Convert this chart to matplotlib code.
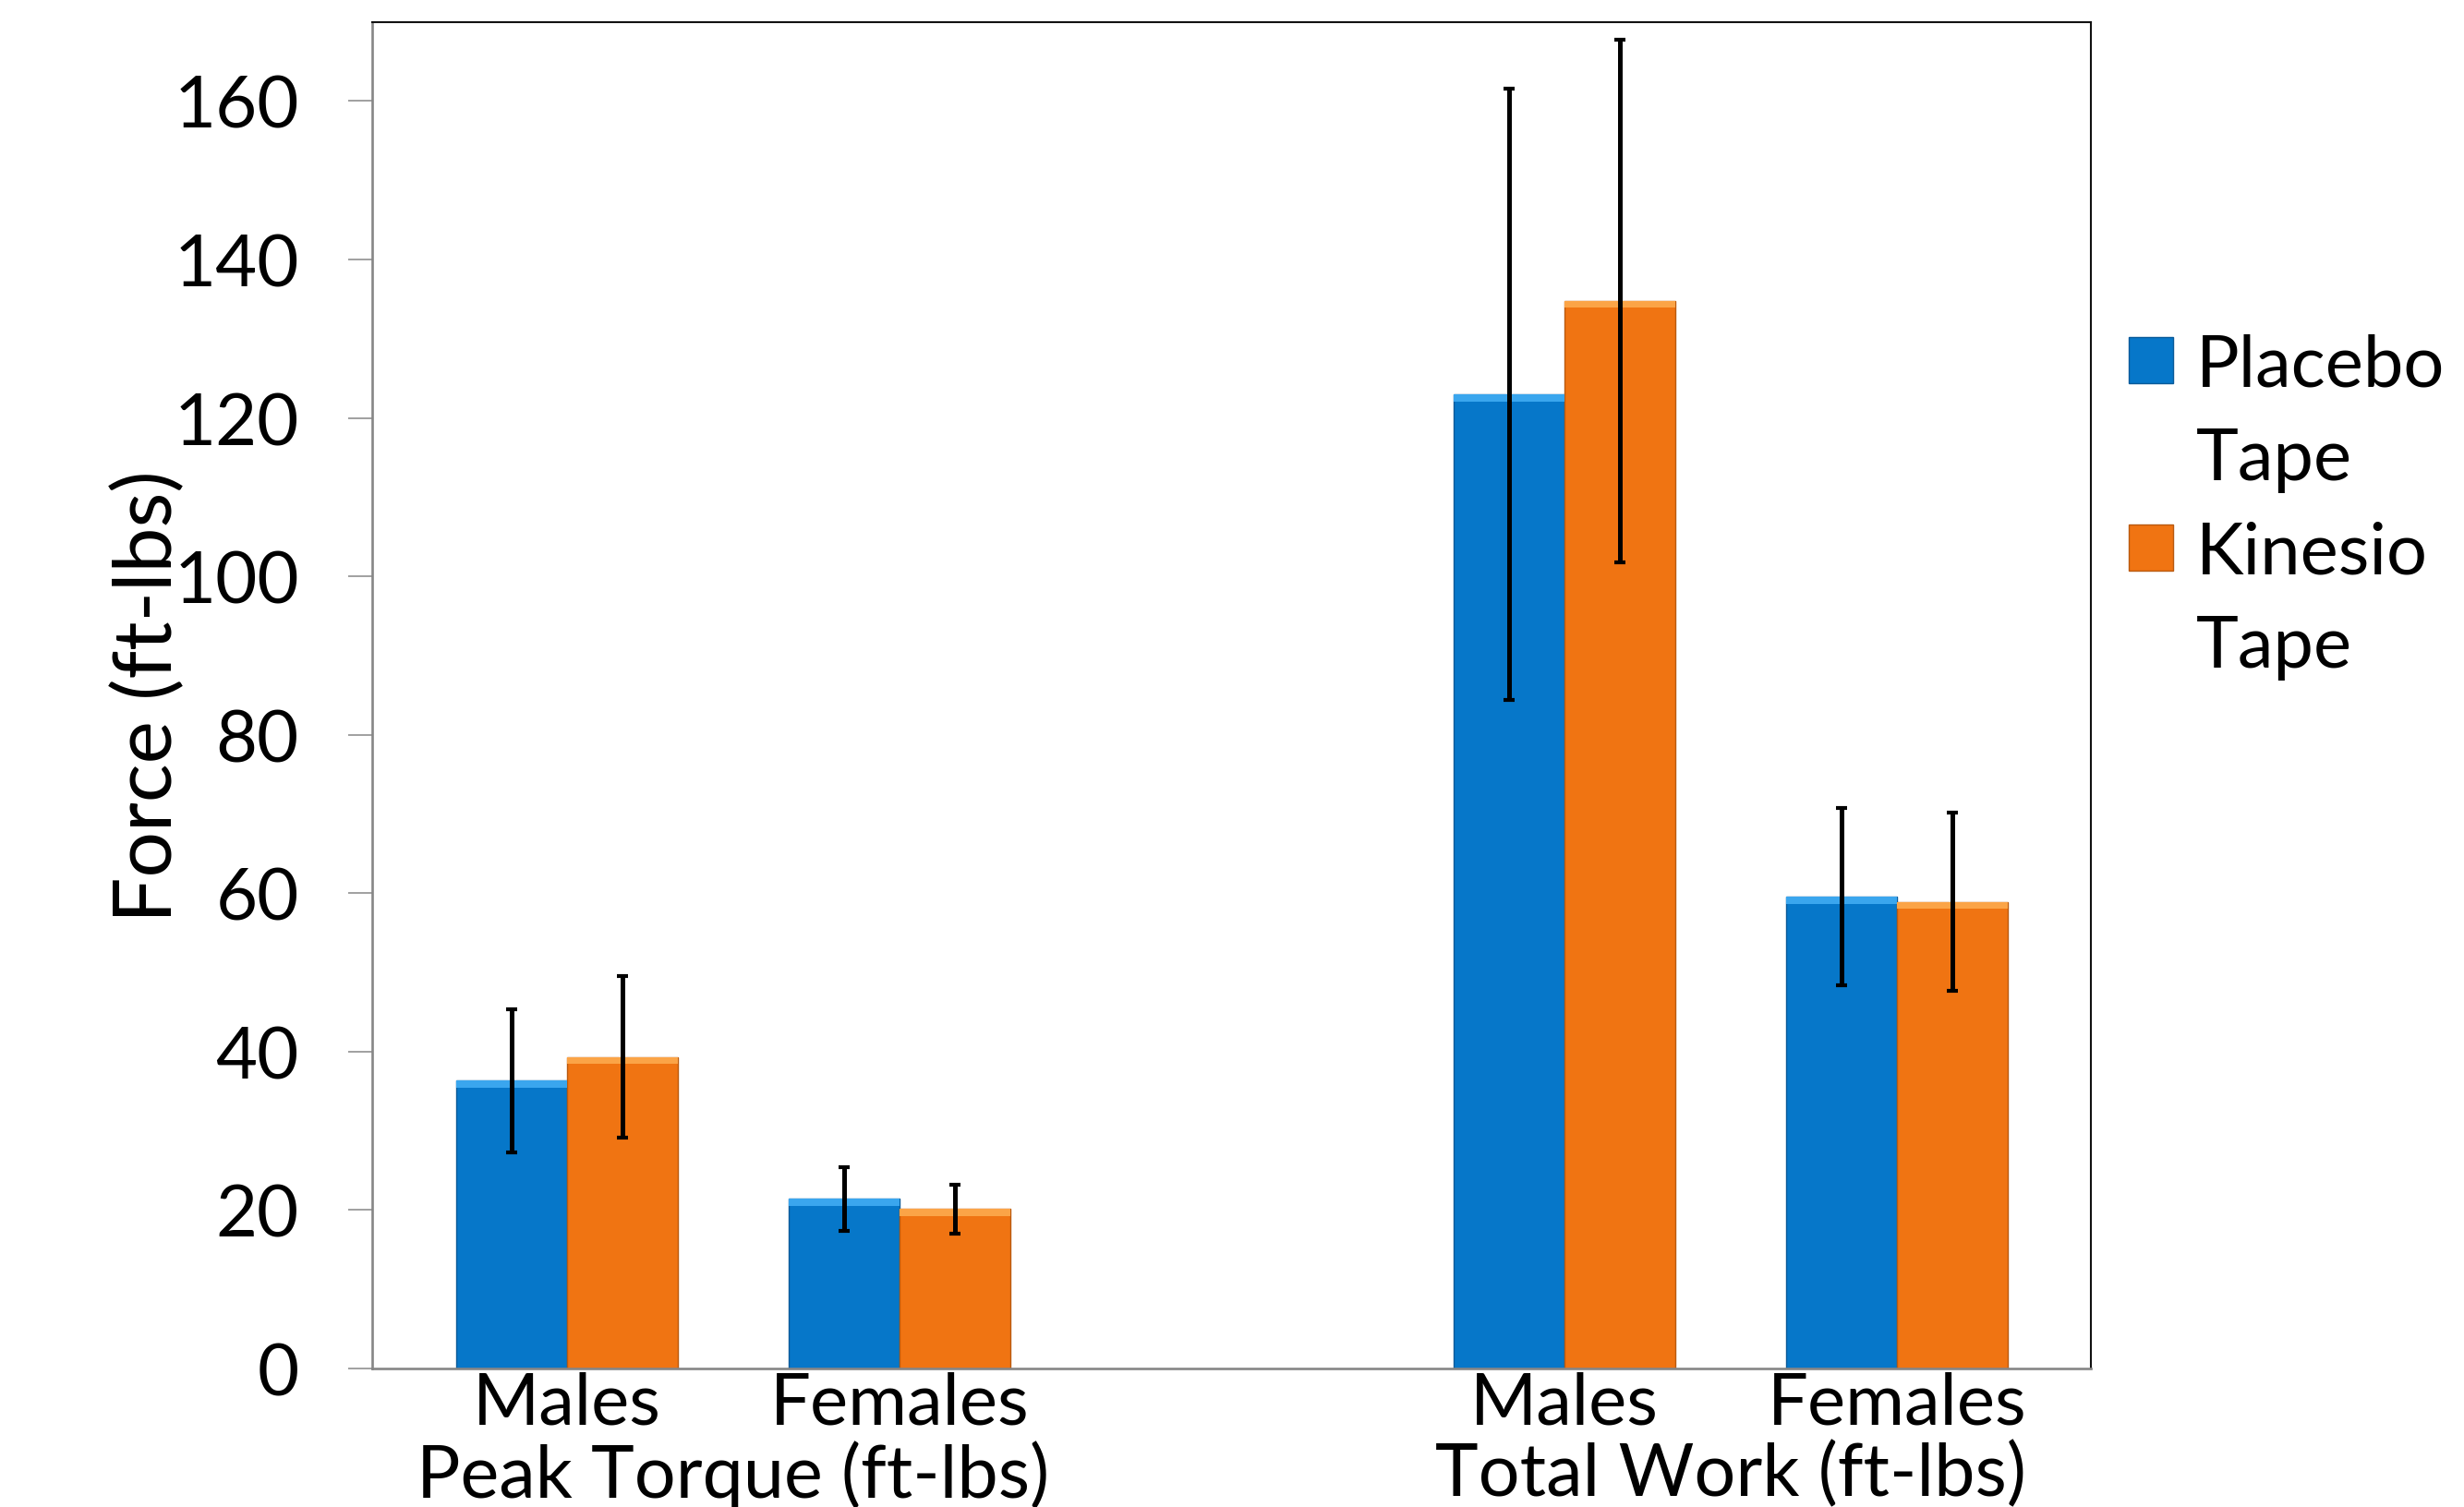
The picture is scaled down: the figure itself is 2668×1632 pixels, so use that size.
import matplotlib
matplotlib.use("Agg")
import matplotlib.pyplot as plt
from matplotlib.patches import Patch
import numpy as np

# ---- data ----
categories = ["Males", "Females", "Males", "Females"]
cat_positions = [0, 1, 3, 4]
groups = ["Peak Torque (ft-lbs)", "Total Work (ft-lbs)"]
group_positions = [0.5, 3.5]
series_names = ["Placebo Tape", "Kinesio Tape"]
placebo = [36.3, 21.4, 123.0, 59.5]
placebo_err = [9.0, 4.0, 38.6, 11.2]
kinesio = [39.3, 20.1, 134.8, 58.9]
kinesio_err = [10.2, 3.1, 33.0, 11.3]
yticks = [0, 20, 40, 60, 80, 100, 120, 140, 160]
ylabel = "Force (ft-lbs)"

# ---- style ----
plt.rcParams['font.family'] = ['Lato', 'DejaVu Sans']
FS = 56
blue = "#0677C9"
blue_edge = "#0A5A99"
blue_light = "#3AA6EE"
orange = "#F07412"
orange_edge = "#B85A10"
orange_light = "#FBA447"

fig = plt.figure(figsize=(26.68, 16.33), dpi=100)
ax = fig.add_axes([0.1509, 0.0920, 0.6977, 0.8929])

width = 1 / 3
x = np.array(cat_positions, dtype=float)
ax.bar(x - width / 2, placebo, width, color=blue, edgecolor=blue_edge, linewidth=1.0, zorder=2)
ax.bar(x + width / 2, kinesio, width, color=orange, edgecolor=orange_edge, linewidth=1.0, zorder=2)
# top bevel highlight
bev = 0.9
ax.bar(x - width / 2, bev, width, bottom=np.array(placebo) - bev, color=blue_light, linewidth=0, zorder=2.1)
ax.bar(x + width / 2, bev, width, bottom=np.array(kinesio) - bev, color=orange_light, linewidth=0, zorder=2.1)

ekw = dict(fmt='none', ecolor='black', elinewidth=3.6, capsize=4.5, capthick=3.0, zorder=3)
ax.errorbar(x - width / 2, placebo, yerr=placebo_err, **ekw)
ax.errorbar(x + width / 2, kinesio, yerr=kinesio_err, **ekw)

ax.set_xlim(-0.587, 4.583)
ax.set_ylim(0, 170)
ax.set_yticks(yticks)
ax.tick_params(axis='y', labelsize=FS, length=18.7, width=1.1, color='#868686', pad=38)
ax.set_xticks(cat_positions)
ax.set_xticklabels(categories)
ax.tick_params(axis='x', labelsize=FS, length=0, pad=2)

sec = ax.secondary_xaxis('bottom')
sec.set_xticks(group_positions)
sec.set_xticklabels(groups)
sec.tick_params(axis='x', labelsize=FS + 1, length=0, pad=56)
sec.spines['bottom'].set_visible(False)

for s in ['left', 'bottom']:
    ax.spines[s].set_color('#868686')
    ax.spines[s].set_linewidth(1.9)
for s in ['top', 'right']:
    ax.spines[s].set_color('#111111')
    ax.spines[s].set_linewidth(1.5)
for sp in ax.spines.values():
    sp.set_zorder(4)

ax.set_ylabel(ylabel, fontsize=63)
ax.yaxis.set_label_coords(-0.108, 0.5)

# legend: each series name split over two lines, handle on first line
handles, labels = [], []
for name, fc, ec in [(series_names[0], blue, blue_edge), (series_names[1], orange, orange_edge)]:
    words = name.split()
    handles.append(Patch(facecolor=fc, edgecolor=ec, linewidth=1.0))
    labels.append(words[0])
    handles.append(Patch(facecolor='none', edgecolor='none'))
    labels.append(" ".join(words[1:]))
fig.legend(handles, labels, loc='upper left', bbox_to_anchor=(0.864, 0.7786),
           frameon=False, fontsize=FS, handlelength=0.62, handleheight=0.62,
           handletextpad=0.32, labelspacing=0.39, borderpad=0, borderaxespad=0)

fig.savefig("out.png", dpi=100, facecolor='white')
